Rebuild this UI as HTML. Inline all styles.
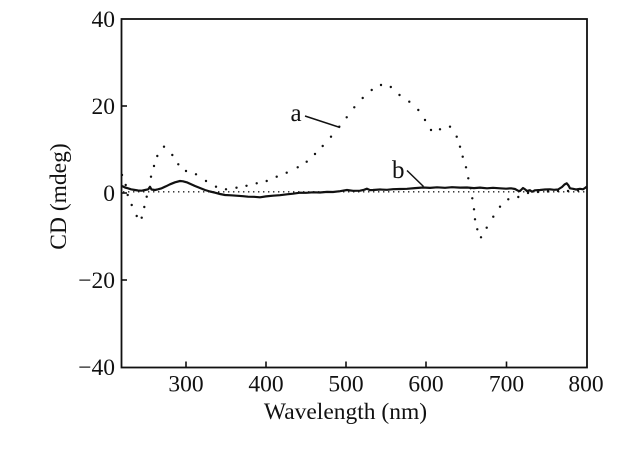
<!DOCTYPE html>
<html><head><meta charset="utf-8"><style>
html,body{margin:0;padding:0;background:#fff;}
svg{display:block;}
text{font-family:"Liberation Serif",serif;fill:#111;}
</style></head><body>
<svg width="627" height="450" viewBox="0 0 627 450" xmlns="http://www.w3.org/2000/svg">
<rect x="0" y="0" width="627" height="450" fill="#fff"/>
<!-- frame -->
<rect x="121.5" y="19" width="465.5" height="348.5" fill="none" stroke="#111" stroke-width="1.8"/>
<!-- y ticks -->
<g stroke="#111" stroke-width="1.6">
<line x1="121.5" y1="106" x2="127" y2="106"/>
<line x1="121.5" y1="193" x2="127" y2="193"/>
<line x1="121.5" y1="280" x2="127" y2="280"/>
<line x1="186" y1="367.5" x2="186" y2="361.5"/>
<line x1="266" y1="367.5" x2="266" y2="361.5"/>
<line x1="346" y1="367.5" x2="346" y2="361.5"/>
<line x1="426" y1="367.5" x2="426" y2="361.5"/>
<line x1="506.5" y1="367.5" x2="506.5" y2="361.5"/>
</g>
<!-- y tick labels -->
<g font-size="23.5" text-anchor="end">
<text x="115" y="27">40</text>
<text x="115" y="114">20</text>
<text x="115" y="201">0</text>
<text x="115" y="288">−20</text>
<text x="115" y="375">−40</text>
</g>
<!-- x tick labels -->
<g font-size="23.5" text-anchor="middle">
<text x="186" y="391.5">300</text>
<text x="266" y="391.5">400</text>
<text x="346" y="391.5">500</text>
<text x="426" y="391.5">600</text>
<text x="506.5" y="391.5">700</text>
<text x="586" y="391.5">800</text>
</g>
<text x="345.5" y="419" font-size="23.5" text-anchor="middle">Wavelength (nm)</text>
<text transform="translate(66,196.5) rotate(-90)" font-size="23.5" text-anchor="middle">CD (mdeg)</text>

<!-- zero dotted line -->
<line x1="123" y1="191.8" x2="586" y2="191.8" stroke="#222" stroke-width="1.4" stroke-dasharray="1.4 3.6"/>

<!-- curve a (dotted) -->
<g fill="#111">
<circle cx="122" cy="175" r="1.2"/><circle cx="125.7" cy="185" r="1.2"/><circle cx="127.7" cy="195" r="1.2"/>
<circle cx="131.7" cy="205" r="1.2"/><circle cx="136.7" cy="216" r="1.2"/><circle cx="141.7" cy="217.7" r="1.2"/>
<circle cx="144.3" cy="207" r="1.2"/><circle cx="146.7" cy="196.7" r="1.2"/><circle cx="151" cy="176.7" r="1.2"/>
<circle cx="154" cy="166" r="1.2"/><circle cx="157.3" cy="156" r="1.2"/><circle cx="164" cy="146.7" r="1.2"/>
<circle cx="172.3" cy="155" r="1.2"/><circle cx="178.3" cy="164.3" r="1.2"/><circle cx="186" cy="171" r="1.2"/>
<circle cx="196" cy="174.3" r="1.2"/><circle cx="206" cy="181" r="1.2"/><circle cx="216" cy="186.7" r="1.2"/>
<circle cx="226" cy="189.3" r="1.2"/><circle cx="236.5" cy="187.7" r="1.2"/><circle cx="246.5" cy="185.8" r="1.2"/>
<circle cx="256.7" cy="183.3" r="1.2"/><circle cx="266.7" cy="181" r="1.2"/><circle cx="276.7" cy="176.7" r="1.2"/>
<circle cx="286.7" cy="172.7" r="1.2"/><circle cx="297.7" cy="167.3" r="1.2"/><circle cx="306.7" cy="161.7" r="1.2"/>
<circle cx="315" cy="154" r="1.2"/><circle cx="322.7" cy="146" r="1.2"/><circle cx="331" cy="136.7" r="1.2"/>
<circle cx="339.3" cy="126.7" r="1.2"/><circle cx="346.7" cy="117.3" r="1.2"/><circle cx="354.3" cy="107.3" r="1.2"/>
<circle cx="362.7" cy="98" r="1.2"/><circle cx="371.7" cy="90" r="1.2"/><circle cx="381" cy="85" r="1.2"/>
<circle cx="390.8" cy="87" r="1.2"/><circle cx="399.5" cy="95" r="1.2"/><circle cx="409.3" cy="101.7" r="1.2"/>
<circle cx="418.3" cy="110" r="1.2"/><circle cx="425" cy="120" r="1.2"/><circle cx="431" cy="130" r="1.2"/>
<circle cx="440" cy="129.3" r="1.2"/><circle cx="450" cy="126.7" r="1.2"/><circle cx="456.7" cy="136.7" r="1.2"/>
<circle cx="460" cy="146.7" r="1.2"/><circle cx="462.7" cy="156.7" r="1.2"/><circle cx="466" cy="167.3" r="1.2"/>
<circle cx="468.3" cy="178.3" r="1.2"/><circle cx="470.7" cy="188.3" r="1.2"/><circle cx="472.3" cy="198.3" r="1.2"/>
<circle cx="474" cy="209.3" r="1.2"/><circle cx="475" cy="219.3" r="1.2"/><circle cx="477.3" cy="229.3" r="1.2"/>
<circle cx="481" cy="237.3" r="1.2"/><circle cx="486.7" cy="227.7" r="1.2"/><circle cx="493.3" cy="216.7" r="1.2"/>
<circle cx="500" cy="206.7" r="1.2"/><circle cx="508.3" cy="199.3" r="1.2"/><circle cx="518.3" cy="197" r="1.2"/>
<circle cx="528" cy="193" r="1.2"/><circle cx="538" cy="192" r="1.2"/><circle cx="548" cy="191.5" r="1.2"/>
<circle cx="558" cy="191" r="1.2"/><circle cx="568" cy="191" r="1.2"/><circle cx="578" cy="190.5" r="1.2"/>
</g>

<!-- curve b (solid) -->
<polyline fill="none" stroke="#111" stroke-width="2.2" stroke-linejoin="round" points="
122,186 125,187.5 128,188.3 131,189.3 135,190 138,190.5 141.7,190.7 145,190 148.3,189.3 150,186.8 151.5,189.5 155,190 158,189.3 161.7,188.3 166,186.3 170,184.3 175,182.3 180,181 183,181.3 186.7,182.3 190,183.8 195,186 200,188 205,190 210,191.5 215,192.7 220,194 225,195 231,195.3 238,195.8 243,196.2 248,196.7 254,196.8 260,197.3 266,196.4 273,195.7 280,195.2 287,194.3 293,193.7 300,192.7 306,192.8 313,192.3 320,192.5 327,191.9 333,192 340,191.2 347,190 353,190.8 360,190.7 364,189.8 367,188.7 370,190.1 373,190 380,189.5 387,189.8 393,189.2 400,189 407,188.8 415,188.1 423,187.5 430,187.9 437,187.3 445,187.8 452,187.2 460,187.6 467,187.5 474,188.1 480,187.6 487,188.3 493,187.8 500,188.3 506,188.7 511,188.3 515,189 518,190.7 520,191 523,188 525,189.3 527,191 530,190.2 532,191.7 535,190.3 540,190 545,189.5 550,189.3 554,189.8 558,189.5 562,187 564.5,184.5 566.7,183.3 568.5,185.5 570,188.3 573,188.8 576,189.5 580,188.8 583,189.3 585,188 587,186.5"/>

<!-- labels -->
<text x="290.5" y="121" font-size="25">a</text>
<line x1="305" y1="116" x2="340" y2="127.5" stroke="#111" stroke-width="1.5"/>
<text x="392" y="178" font-size="25">b</text>
<line x1="407" y1="170.5" x2="423.5" y2="186.5" stroke="#111" stroke-width="1.5"/>
</svg>
</body></html>
